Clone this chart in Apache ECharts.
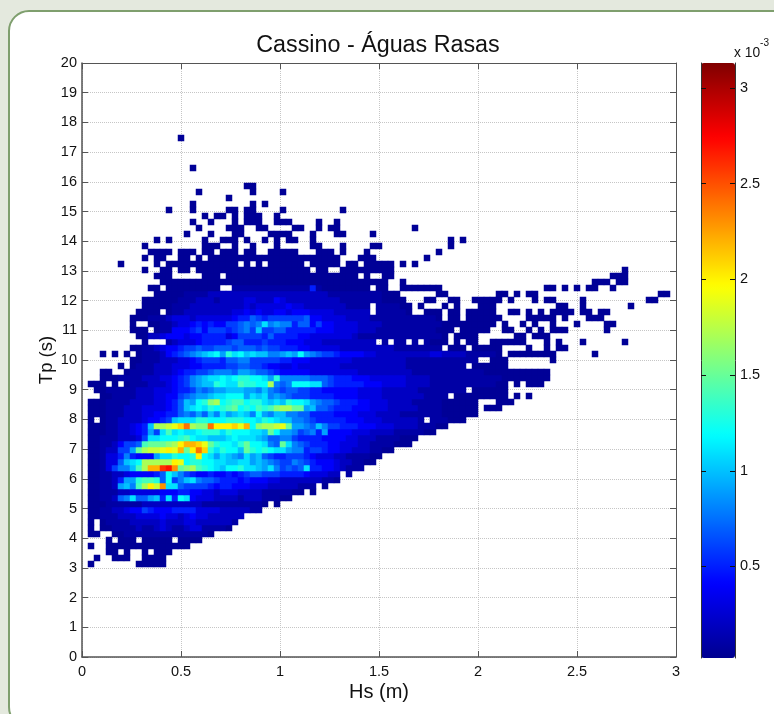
<!DOCTYPE html>
<html>
<head>
<meta charset="utf-8">
<style>html,body{margin:0;padding:0;background:#e4e9de;}#c{width:774px;height:714px;}</style>
<script src="https://cdn.jsdelivr.net/npm/echarts@6/dist/echarts.min.js"></script>
</head>
<body>
<div id="c"></div>
<script>
var title = 'Cassino - Águas Rasas';
var xName = 'Hs (m)';
var yName = 'Tp (s)';
var binCount = 99;
var hsMax = 3, tpMax = 20;
var hsTicks = [0, 0.5, 1, 1.5, 2, 2.5, 3];
var tpTicks = [0,1,2,3,4,5,6,7,8,9,10,11,12,13,14,15,16,17,18,19,20];
var colorTicks = [0.5, 1, 1.5, 2, 2.5, 3];
var colorMin = 0.022, colorMax = 3.13;
var jet = ['#00008f','#0000ff','#0080ff','#00ffff','#80ff80','#ffff00','#ff8000','#ff0000','#800000'];

// density in units of 1e-3, one base-36 digit per cell = tenths of 1e-3 ('.' = empty)
// [Tp row index, cells from Hs column 0, grouped in tens]
var cellRows = [
[15,".0.......0 0000"],
[16,"..0..000.. 0000"],
[17,"....00.0.. 0.000"],
[18,".0..000000 00000000"],
[19,"....0.000. 00000.0000"],
[20,".00..00111 1111111111 10"],
[21,".0.0011112 1123211233 11110"],
[22,".0.0111122 2223222332 222221"],
[23,".001112223 3334332343 3222222"],
[24,".001122344 6544455553 3332222211"],
[25,".000111111 2222222222 1111111111 0.0"],
[26,".00112 78b7 79a5b5cb43 3322221222 11100"],
[27,".001112233 3334445544 3323332222 1111100.0"],
[28,".00112 9a8e hkinbb7666 6545544433 322222111. 0"],
[29,".001125 99d eed7c68ab8 7765554544 4332222222 110"],
[30,".001122344 4457ca8654 4544545677 6665555433 322.1"],
[31,".00136 88ae hmmqrnfghe dcbaccdbba 9b86767b55 4432111"],
[32,".00133 7abc hhhhhkjcdd ccbbaabb9a 9876687654 443221100"],
[33,".00133 5854 449bbdccdk cb9ba98b9a 7655666543 3322111100"],
[34,".001226 69f hiijkjmfko ldbdccafdc dcbb988566 5443322211 00"],
[35,".00112 4667 efffghkmml jfdccbdfcc b87fb87655 5443332211 11000"],
[36,".001112 223 6bbcccdecb baaabcbbba 9778865555 4444332221 111000"],
[37,".000112 234 596bebcbbc dddbdcccbb afc9986785 9444433322 221111100"],
[38,".000112 234 5ahhijlohg gokkkljmcg hhijf9987a 8665554443 3322221110 0"],
[39,".0.0112222 34456abbbd dcccdddccb dcbaa88765 5555444333 2222221.11 1000"],
[40,".000111222 3344557879 7a8b9aba8c 98aa887755 5544443332 2221111111 000000"],
[41,".00011 1222 3333457abc bdcdefcdce deghhff9a7 7655544433 3222221111 000000.000"],
[42,".000111122 2233457a9c dghcdeecdd babadccb98 7765554433 3222211111 000000...0 00"],
[43,"...0011112 2233446789 9abbccc9ba b898766655 5544443333 2222222111 1.00000000 0.0.0"],
[44,"..00111112 2233345568 7899aaa998 a876776655 4444443333 2222221111 1111.00000 0"],
[45,".000.0.011 1222345689 aadcbbeddc ch878cccbb 7655555444 3333222211 1111111110 0.0.000"],
[46,"...0001111 2223345689 abbcbcddcc b9d8888877 7655544433 3333222211 1111111111 00000000"],
[47,"...00..011 1122234556 6788879987 7654444433 3333332222 2222211111 1111111000 00000000"],
[48,"......0.01 1122233344 5555667766 5443343333 3332222222 2222111111 1111.00000 0"],
[49,"........00 1112223345 6665778866 6665544433 3333322222 2222111111 111111..00 0.......0"],
[50,"...0.0.0.0 1112456789 abc9dbcaba a889a9c987 6654444332 2222222233 2222111110 .00000000. .....0"],
[51,"........00 1123445667 6677767776 7665554433 3332222222 2211111111 .000.00000 ....0..0.0 0"],
[52,".......... 0...123334 5555677555 6555444333 222222222. 1.11.1.100 0.0.00..00 0000...0.0 ...0...... 0"],
[53,".........0 0223444344 5555346666 5755554433 3333321111 1111111111 0.0000.... ..00.000"],
[54,"........00 0.01144456 466656786a 6677555554 4433332221 1111111110 00.00000.. 00..0.0.00 0......0"],
[55,"........0. .001123345 4544667878 b898857746 4433332222 1111111111 000000000. 0..0.0..0. ..0....00"],
[56,"........00 0111233323 3333345576 5666666744 3333222211 1111111110 .00.000000 ....00000. 0...000"],
[57,".........0 000.011222 2222233434 3344344433 33222222.1 11110..000 .00.00000. .00.0.0.00 00.00.00"],
[58,".......... 0000011122 2222222323 3333433222 22221111.1 11100.0... 0.0...000. .........0 0..0...... .0"],
[59,".......... 0000001112 2212222332 2243222222 2221111111 0000...00. .00..00000 .0...0.00. ...0...... ....00"],
[60,".......... ..00000111 1222222222 2222222222 2111111111 000......0 0........0 0.0.00.... .......... ......00"],
[61,".......... .00.000000 000..11111 1111111151 00000000.0 0..0000000 .......... .......00. 0.0.00..0"],
[62,".......... ...0000000 0000000000 0000000000 0000000000 0..0...... .......... .......... .....000.0 0"],
[63,".......... ..000..... 000.000000 0000000000 000000.0.. 00........ .......... .......... ........00 0"],
[64,".......... 0..00.00.0 0000000000 00000000.0 0..0000000 00........ .......... .......... .......... 0"],
[65,"......0... ..0.000000 000000.0.0 .000000.00 000.00.000 00.0.0"],
[66,".......... 0.00..00.0 .000000000 0000000000 000...000. .......0"],
[67,".......... .0000.000. 00.000.00. .00000...0 00.0...0.. .........0"],
[68,".......... 0......... 000..0..0. ..0.....00 ...0....00 .......... .0"],
[69,".......... ..0.0..... 0..000.0.. 0.0.00..0. .......... .......... .0.0"],
[70,".......... .......0.. .0...00... .0000...0. ..00....0."],
[71,".......... .........0 ....000..0 0....00..0 .00....... .....0"],
[72,".......... ........0. .0...0.000 ..000....0 ..0"],
[73,".......... .......... 0.00.0.000 ..0"],
[74,".......... ....0...0. ....00.00. ...0...... ...0"],
[75,".......... ........0. ........0. 0"],
[76,".......... .......... ....0"],
[77,".......... .........0 ........0. ...0"],
[78,".......... .......... .......00"],
[81,".......... ........0"],
[86,".......... ......0"]
];

var hsBins = [], tpBins = [];
for (var b = 0; b < binCount; b++) { hsBins.push(b); tpBins.push(b); }
var cells = [];
cellRows.forEach(function (r) {
  var s = r[1].replace(/ /g, '');
  for (var i = 0; i < s.length; i++) {
    if (s[i] === '.') continue;
    var n = parseInt(s[i], 36);
    cells.push([i, r[0], n === 0 ? 0.05 : n / 10]);
  }
});

var axisCol = '#555', txt = '#111', font = 'Liberation Sans';
function valueAxis(o) {
  return Object.assign({
    type: 'value', axisLine: {show: true, onZero: false, lineStyle: {color: axisCol, width: 1}},
    axisTick: {show: true, inside: true, length: 6, lineStyle: {color: axisCol}},
    splitLine: {show: false}, z: 2
  }, o);
}
var labelStyle = {color: txt, fontFamily: font, fontSize: 14.5, showMinLabel: true, showMaxLabel: true};

var option = {
  animation: false,
  backgroundColor: 'transparent',
  textStyle: {fontFamily: font},
  title: {text: title, left: 373, top: 29, textAlign: 'center',
    textStyle: {fontFamily: font, fontWeight: 'normal', fontSize: 23.3, color: txt}},
  graphic: [
    {type: 'rect', z: -10, silent: true, shape: {x: 9, y: 11, width: 790, height: 716, r: 20},
      style: {fill: '#ffffff', stroke: '#7f9f6e', lineWidth: 2}},
    {type: 'text', left: 734, top: 38, silent: true, z: 20, style: {
      rich: {a: {fontFamily: font, fontSize: 13.8, fill: txt, padding: [8,0,0,0]}, b: {fontFamily: font, fontSize: 10, fill: txt, verticalAlign: 'top', padding: [0,0,0,0]}},
      text: '{a|x 10}{b|-3}'}}
  ],
  grid: [
    {left: 82, top: 63, width: 594, height: 594, outerBoundsMode: 'none'},
    {left: 701, top: 63, width: 34, height: 595, outerBoundsMode: 'none'}
  ],
  xAxis: [
    valueAxis({gridIndex: 0, position: 'bottom', min: 0, max: hsMax, interval: 0.5,
      axisLabel: Object.assign({margin: 7, formatter: function (v) { return hsTicks.indexOf(v) >= 0 ? String(v) : ''; }}, labelStyle),
      axisLine: {show: true, onZero: false, lineStyle: {color: axisCol, width: 1.5}},
      splitLine: {show: true, lineStyle: {type: 'dotted', color: '#c6c6c6', width: 1}},
      name: xName, nameLocation: 'middle', nameGap: 25, nameMoveOverlap: false,
      nameTextStyle: {fontFamily: font, fontSize: 20, color: txt}}),
    valueAxis({gridIndex: 0, position: 'top', min: 0, max: hsMax, interval: 0.5, axisLabel: {show: false}}),
    {type: 'category', gridIndex: 0, data: hsBins, show: false},
    {type: 'value', gridIndex: 1, min: 0, max: 1, show: false}
  ],
  yAxis: [
    valueAxis({gridIndex: 0, position: 'left', min: 0, max: tpMax, interval: 1,
      axisLabel: Object.assign({margin: 5, padding: [2,0,0,0], formatter: function (v) { return tpTicks.indexOf(v) >= 0 ? String(v) : ''; }}, labelStyle),
      axisLine: {show: true, onZero: false, lineStyle: {color: axisCol, width: 1.5}},
      splitLine: {show: true, lineStyle: {type: 'dotted', color: '#c6c6c6', width: 1}},
      name: yName, nameLocation: 'middle', nameGap: 26, nameMoveOverlap: false,
      nameTextStyle: {fontFamily: font, fontSize: 18.5, color: txt}}),
    valueAxis({gridIndex: 0, position: 'right', min: 0, max: tpMax, interval: 1, axisLabel: {show: false}}),
    {type: 'category', gridIndex: 0, data: tpBins, show: false},
    valueAxis({gridIndex: 1, position: 'right', min: colorMin, max: colorMax, z: 20,
      axisLine: {show: true, onZero: false, lineStyle: {color: '#333', width: 1}},
      axisTick: {show: true, inside: true, length: 5, customValues: colorTicks, lineStyle: {color: '#111'}},
      axisLabel: {customValues: colorTicks, margin: 5, padding: [2,0,0,0], color: txt, fontFamily: font, fontSize: 14.5, formatter: function (v) { return String(v); }}}),
    valueAxis({gridIndex: 1, position: 'left', min: colorMin, max: colorMax, z: 20,
      axisLine: {show: true, onZero: false, lineStyle: {color: '#333', width: 1}},
      axisTick: {show: true, inside: true, length: 5, customValues: colorTicks, lineStyle: {color: '#111'}},
      axisLabel: {show: false}})
  ],
  visualMap: {
    type: 'continuous', show: true, seriesIndex: 0, min: colorMin, max: colorMax,
    left: 701, top: 63, itemWidth: 34, itemHeight: 595, padding: 0, text: null, showLabel: false,
    calculable: false, realtime: false, hoverLink: false, silent: true, orient: 'vertical',
    inRange: {color: jet}, z: 4
  },
  series: [{
    type: 'heatmap', xAxisIndex: 2, yAxisIndex: 2, data: cells, z: 6, progressive: 0,
    emphasis: {disabled: true}
  }]
};
var chart = echarts.init(document.getElementById('c'), null, {renderer: 'canvas'});
chart.setOption(option);
</script>
</body>
</html>
